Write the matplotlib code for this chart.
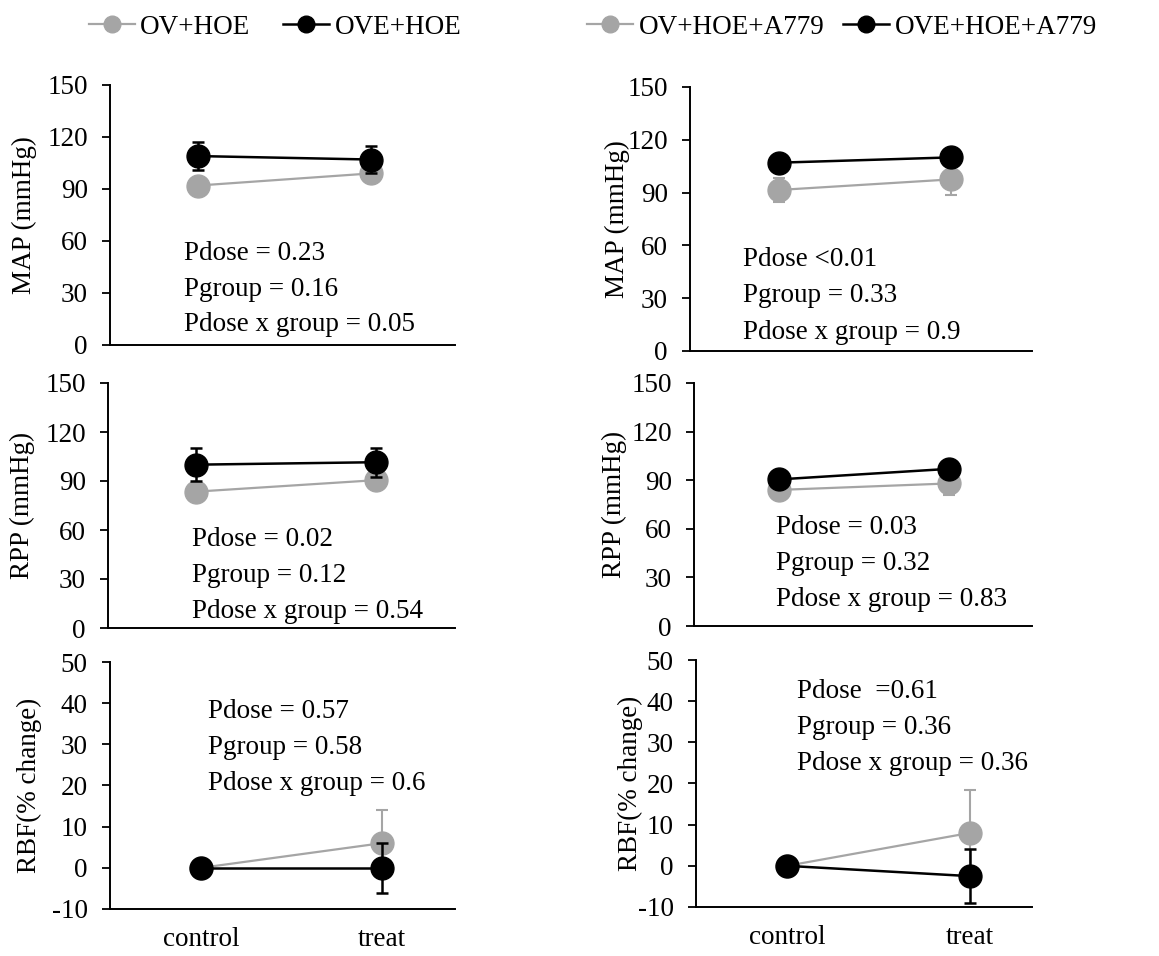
import matplotlib
matplotlib.use('Agg')
import matplotlib.pyplot as plt
from matplotlib.lines import Line2D

plt.rcParams['font.family'] = ['Liberation Serif', 'DejaVu Serif']
plt.rcParams['axes.unicode_minus'] = False

W, H = 1159, 956

# categories
doses = ['control', 'treat']
xpos = [1, 2]

# left column: OV+HOE (gray) vs OVE+HOE (black)
map_ov_hoe = [92, 99]
map_ov_hoe_err = [3, 3]
map_ove_hoe = [109, 107]
map_ove_hoe_err = [8, 8]
rpp_ov_hoe = [83.5, 90.5]
rpp_ov_hoe_err = [3, 3]
rpp_ove_hoe = [100, 101.5]
rpp_ove_hoe_err = [10, 9]
rbf_ov_hoe = [0, 6]
rbf_ov_hoe_err = [0, 8]
rbf_ove_hoe = [0, 0]
rbf_ove_hoe_err = [0, 6]

# right column: with A779
map_ov_a779 = [91.5, 97.5]
map_ov_a779_err = [7, 9]
map_ove_a779 = [107, 110]
map_ove_a779_err = [3, 3]
rpp_ov_a779 = [84, 88]
rpp_ov_a779_err = [5, 7]
rpp_ove_a779 = [90.5, 97]
rpp_ove_a779_err = [3, 3]
rbf_ov_a779 = [0, 8]
rbf_ov_a779_err = [0, 10.5]
rbf_ove_a779 = [0, -2.5]
rbf_ove_a779_err = [0, 6.5]

ylabels = ['MAP (mmHg)', 'RPP (mmHg)', 'RBF(% change)']
stats_left = [
    ['Pdose = 0.23', 'Pgroup = 0.16', 'Pdose x group = 0.05'],
    ['Pdose = 0.02', 'Pgroup = 0.12', 'Pdose x group = 0.54'],
    ['Pdose = 0.57', 'Pgroup = 0.58', 'Pdose x group = 0.6'],
]
stats_right = [
    ['Pdose <0.01', 'Pgroup = 0.33', 'Pdose x group = 0.9'],
    ['Pdose = 0.03', 'Pgroup = 0.32', 'Pdose x group = 0.83'],
    ['Pdose  =0.61', 'Pgroup = 0.36', 'Pdose x group = 0.36'],
]

GRAY = '#a5a5a5'
FS = 19.5

fig = plt.figure(figsize=(W / 100, H / 100), dpi=100)

# panel boxes in pixels: left, top, right, bottom ; x-limits ; label right edge ; text pos
panels = [
    dict(box=(110, 85, 455, 345), xlim=(0.491, 2.485), labx=37, txt=(184, 253),
         data=(map_ov_hoe, map_ov_hoe_err, map_ove_hoe, map_ove_hoe_err), row=0, stats=stats_left[0]),
    dict(box=(690, 87, 1032, 351), xlim=(0.483, 2.471), labx=630, txt=(743, 260),
         data=(map_ov_a779, map_ov_a779_err, map_ove_a779, map_ove_a779_err), row=0, stats=stats_right[0]),
    dict(box=(108, 383, 455, 628), xlim=(0.506, 2.444), labx=35, txt=(192, 540),
         data=(rpp_ov_hoe, rpp_ov_hoe_err, rpp_ove_hoe, rpp_ove_hoe_err), row=1, stats=stats_left[1]),
    dict(box=(694, 383, 1032, 626), xlim=(0.5, 2.488), labx=627, txt=(776, 528),
         data=(rpp_ov_a779, rpp_ov_a779_err, rpp_ove_a779, rpp_ove_a779_err), row=1, stats=stats_right[1]),
    dict(box=(110, 662, 455, 909), xlim=(0.497, 2.403), labx=42, txt=(208, 712),
         data=(rbf_ov_hoe, rbf_ov_hoe_err, rbf_ove_hoe, rbf_ove_hoe_err), row=2, stats=stats_left[2]),
    dict(box=(696, 660, 1032, 907), xlim=(0.503, 2.339), labx=643, txt=(797, 691),
         data=(rbf_ov_a779, rbf_ov_a779_err, rbf_ove_a779, rbf_ove_a779_err), row=2, stats=stats_right[2]),
]

for p in panels:
    l, t, r, b = p['box']
    ax = fig.add_axes([l / W, 1 - b / H, (r - l) / W, (b - t) / H])
    g, ge, k, ke = p['data']
    ax.errorbar(xpos, g, yerr=ge, fmt='o-', color=GRAY, ms=16.5, lw=1.6,
                elinewidth=1.5, capsize=4.5, capthick=1.5, zorder=2)
    ax.errorbar(xpos, k, yerr=ke, fmt='o-', color='black', ms=16.5, lw=1.8,
                elinewidth=1.8, capsize=4.5, capthick=1.8, zorder=3)
    ax.set_xlim(*p['xlim'])
    if p['row'] < 2:
        ax.set_ylim(0, 150)
        ax.set_yticks(range(0, 151, 30))
    else:
        ax.set_ylim(-10, 50)
        ax.set_yticks(range(-10, 51, 10))
    ax.set_xticks(xpos)
    if p['row'] == 2:
        ax.set_xticklabels(doses, fontsize=FS)
    else:
        ax.set_xticklabels([])
    ax.tick_params(axis='x', length=0, pad=13)
    ax.tick_params(axis='y', direction='out', length=6, width=1.3, labelsize=FS, pad=10)
    for s in ['top', 'right']:
        ax.spines[s].set_visible(False)
    for s in ['left', 'bottom']:
        ax.spines[s].set_linewidth(1.4)
    ax.set_ylabel(ylabels[p['row']], fontsize=FS)
    ax.yaxis.set_label_coords((p['labx'] - l) / (r - l), 0.5)
    tx, ty = p['txt']
    for i, line in enumerate(p['stats']):
        fig.text(tx / W, 1 - (ty + i * 36) / H, line, fontsize=FS, va='center', ha='left')

# legends
h_ov = Line2D([], [], color=GRAY, marker='o', ms=12, lw=1.6)
h_ove = Line2D([], [], color='black', marker='o', ms=12, lw=1.8)
fig.legend([h_ov, h_ove], ['OV+HOE', 'OVE+HOE'], loc='center', ncol=2,
           bbox_to_anchor=(275 / W, 1 - 27 / H), frameon=False, fontsize=FS,
           handlelength=1.7, handletextpad=0.2, columnspacing=1.2)
fig.legend([h_ov, h_ove], ['OV+HOE+A779', 'OVE+HOE+A779'], loc='center', ncol=2,
           bbox_to_anchor=(842 / W, 1 - 27 / H), frameon=False, fontsize=FS,
           handlelength=1.7, handletextpad=0.2, columnspacing=0.7)

fig.savefig('out.png', dpi=100)
